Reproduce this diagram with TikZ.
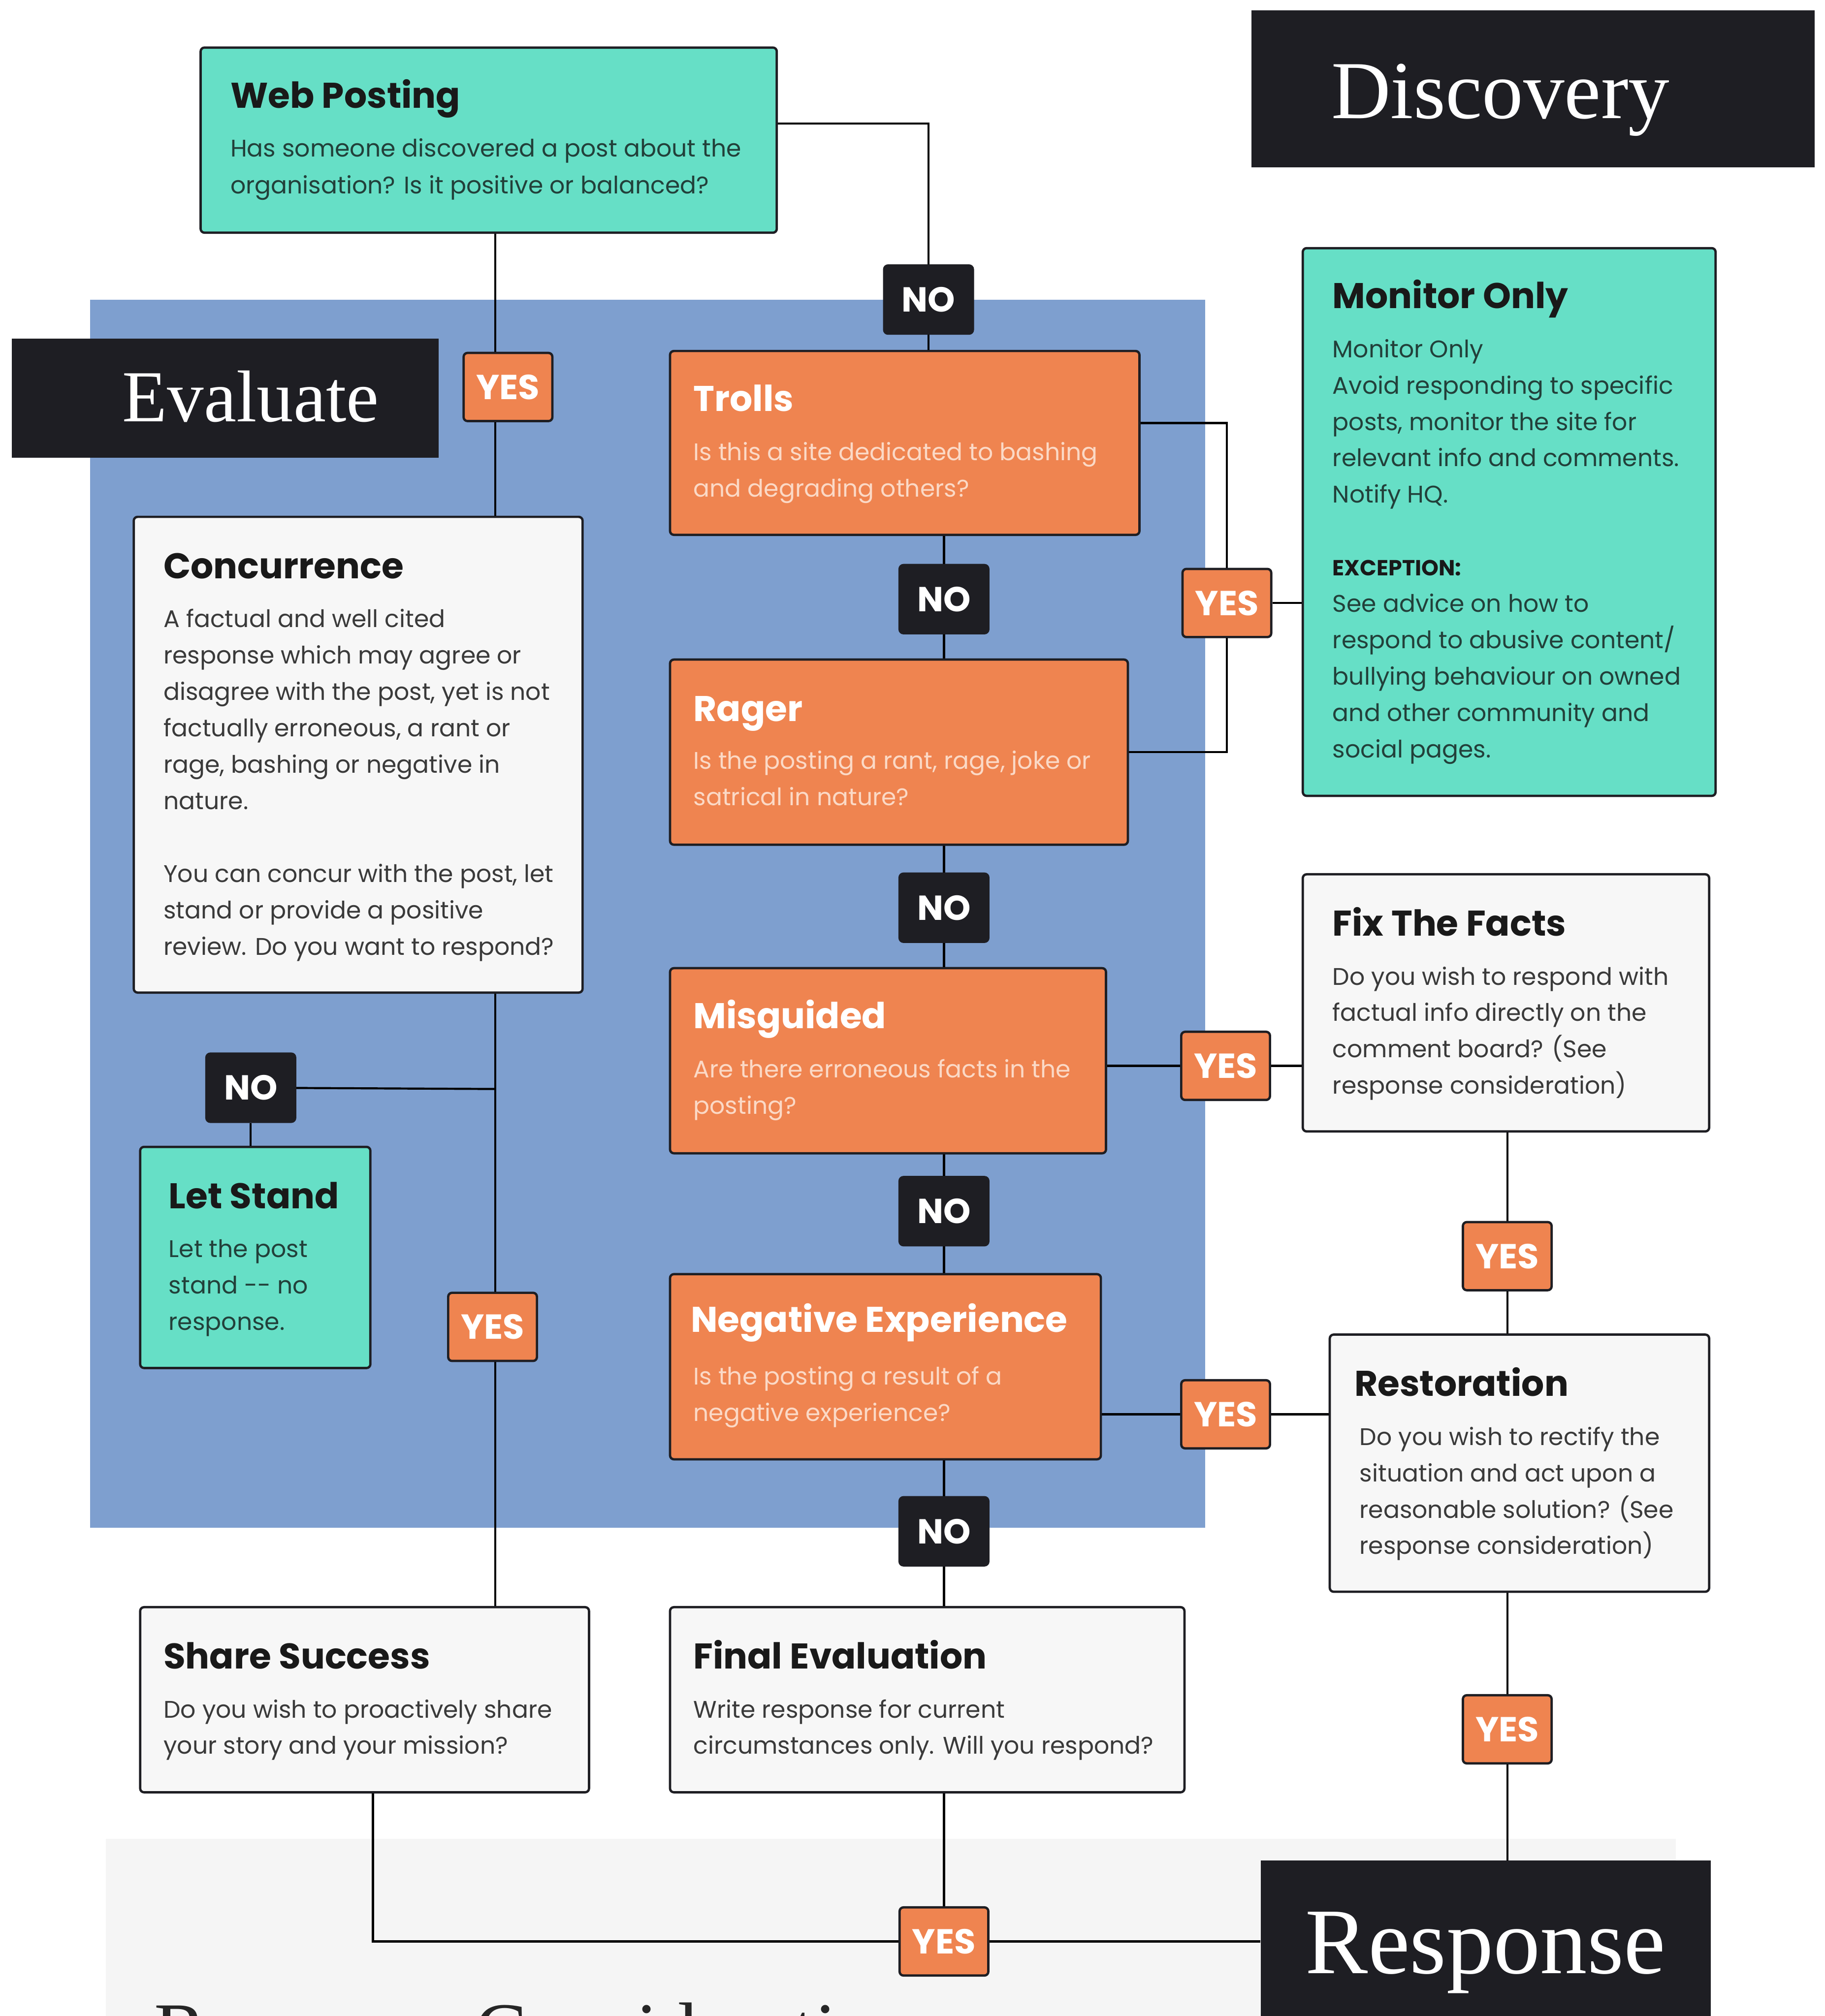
\documentclass[tikz,border=0pt]{standalone}
\usepackage{fontspec}
\setmainfont{Poppins}
\newfontfamily\hdrfont{Liberation Serif}
\usetikzlibrary{calc}
\definecolor{teal1}{HTML}{66DFC6}
\definecolor{orng}{HTML}{EF8450}
\definecolor{blu}{HTML}{7E9FCF}
\definecolor{drk}{HTML}{1E1E23}
\definecolor{lgt}{HTML}{F7F7F7}
\definecolor{bgg}{HTML}{F5F5F5}
\definecolor{tealtxt}{HTML}{22403A}
\definecolor{grytxt}{HTML}{3A3A3A}
\definecolor{peach}{HTML}{FBD9C6}
\pgfdeclarelayer{bglayer}
\pgfdeclarelayer{connlayer}
\pgfsetlayers{bglayer,connlayer,main}
\newcommand\blines[6]{%
  \foreach \tl [count=\ii] in {#6} {\node[#5] (#1\ii) at (#2,{#3+#4*(\ii-1)}) {\tl};}}
\begin{document}
\begin{tikzpicture}[x=1pt,y=-1pt,
  bx/.style={draw=drk, line width=1.8pt, rounded corners=3pt, inner sep=0pt, outer sep=0pt, anchor=north west},
  ttl/.style={font=\fontsize{27.8pt}{32pt}\selectfont\bfseries, inner sep=0pt, anchor=base west},
  bdy/.style={font=\fontsize{18.7pt}{22pt}\selectfont, inner sep=0pt, anchor=base west},
  lbl/.style={minimum width=69pt, minimum height=53pt, rounded corners=3pt, inner sep=0pt, font=\fontsize{27pt}{30pt}\selectfont\bfseries, text=white, line width=1.8pt},
  yesl/.style={lbl, fill=orng, draw=drk},
  nol/.style={lbl, fill=drk, draw=drk},
  conn/.style={draw=black, line width=1.6pt},
  hdr/.style={fill=drk, inner sep=0pt, anchor=north west},
  hdrtxt/.style={text=white, inner sep=0pt, anchor=base west},
  orT/.style={ttl, text=white},
  orB/.style={bdy, text=peach},
  teT/.style={ttl, text=black!90},
  teB/.style={bdy, text=tealtxt},
  lgT/.style={ttl, text=black!90},
  lgB/.style={bdy, text=grytxt}
]
\useasboundingbox (0,0) rectangle (1419,1568);
\begin{pgfonlayer}{bglayer}
\fill[white] (0,0) rectangle (1419,1568);
\node[fill=blu, inner sep=0pt, anchor=north west, minimum width=867pt, minimum height=955pt] (evalzone) at (70,233) {};
\node[fill=bgg, inner sep=0pt, anchor=north west, minimum width=1221pt, minimum height=150pt] (respzone) at (82,1430) {};
\node[hdrtxt, text=black!85, font=\hdrfont\fontsize{61pt}{66pt}\selectfont] (rctxt) at (120,1600) {Response Considerations};
\end{pgfonlayer}

% headers
\node[hdr, minimum width=438pt, minimum height=122pt] (disc) at (973,8) {};
\node[hdrtxt, font=\hdrfont\fontsize{64pt}{70pt}\selectfont] (discT) at (1035,92) {Discovery};
\node[hdr, minimum width=332pt, minimum height=93pt] (evalh) at (9,263) {};
\node[hdrtxt, font=\hdrfont\fontsize{57pt}{62pt}\selectfont] (evalT) at (95,328) {Evaluate};
\node[hdr, minimum width=350pt, minimum height=140pt] (resp) at (980,1447) {};
\node[hdrtxt, font=\hdrfont\fontsize{73pt}{80pt}\selectfont] (respT) at (1015,1535) {Response};

% helper coordinates
\coordinate (c1) at (722,96);
\coordinate (j1) at (385,847);
\coordinate (c2) at (290,1510);
\coordinate (c3) at (954,329);

% boxes
\node[bx, fill=teal1, minimum width=448pt, minimum height=144pt] (wp) at (156,37) {};
\node[bx, fill=orng, minimum width=365pt, minimum height=143pt] (trolls) at (521,273) {};
\node[bx, fill=orng, minimum width=356pt, minimum height=144pt] (rager) at (521,513) {};
\node[bx, fill=orng, minimum width=339pt, minimum height=144pt] (mis) at (521,753) {};
\node[bx, fill=orng, minimum width=335pt, minimum height=144pt] (neg) at (521,991) {};
\node[bx, fill=lgt, minimum width=400pt, minimum height=144pt] (fin) at (521,1250) {};
\node[bx, fill=lgt, minimum width=349pt, minimum height=144pt] (ss) at (109,1250) {};
\node[bx, fill=lgt, minimum width=349pt, minimum height=370pt] (con) at (104,402) {};
\node[bx, fill=teal1, minimum width=179pt, minimum height=172pt] (ls) at (109,892) {};
\node[bx, fill=teal1, minimum width=321pt, minimum height=426pt] (mon) at (1013,193) {};
\node[bx, fill=lgt, minimum width=316pt, minimum height=200pt] (fix) at (1013,680) {};
\node[bx, fill=lgt, minimum width=295pt, minimum height=200pt] (rest) at (1034,1038) {};

% labels
\node[nol] (no1) at (722,233) {NO};
\node[yesl] (yes1) at (395,301) {YES};
\node[nol] (no2) at (734,466) {NO};
\node[yesl] (yesT) at (954,469) {YES};
\node[nol] (no3) at (734,706) {NO};
\node[yesl] (yesM) at (953,829) {YES};
\node[nol] (no4) at (734,942) {NO};
\node[nol] (no5) at (195,846) {NO};
\node[yesl] (yesC) at (383,1032) {YES};
\node[yesl] (yesN) at (953,1100) {YES};
\node[yesl] (yesF) at (1172,977) {YES};
\node[nol] (no6) at (734,1191) {NO};
\node[yesl] (yesR) at (1172,1345) {YES};
\node[yesl] (yesE) at (734,1510) {YES};

% connectors
\begin{pgfonlayer}{connlayer}
\draw[conn] (wp.east |- c1) -- (c1) -- (no1);
\draw[conn] (no1) -- (no1 |- trolls.north);
\draw[conn] (j1 |- wp.south) -- (j1 |- ss.north);
\draw[conn] (j1) -- (no5);
\draw[conn] (no5) -- (no5 |- ls.north);
\draw[conn] (no2 |- trolls.south) -- (no2 |- rager.north);
\draw[conn] (no3 |- rager.south) -- (no3 |- mis.north);
\draw[conn] (no4 |- mis.south) -- (no4 |- neg.north);
\draw[conn] (no6 |- neg.south) -- (no6 |- fin.north);
\draw[conn] (yesE |- fin.south) -- (yesE);
\draw[conn] (c2 |- ss.south) -- (c2) -- (yesE);
\draw[conn] (yesE) -- (resp.west |- yesE);
\draw[conn] (trolls.east |- c3) -- (c3) -- (c3 |- rager.east) -- (rager.east);
\draw[conn] (yesT) -- (yesT -| mon.west);
\draw[conn] (mis.east |- yesM) -- (yesM -| fix.west);
\draw[conn] (neg.east |- yesN) -- (yesN -| rest.west);
\draw[conn] (yesF |- fix.south) -- (yesF |- rest.north);
\draw[conn] (yesR |- rest.south) -- (yesR |- resp.north);
\end{pgfonlayer}

% texts
\node[teT] (wpT) at (179,84) {Web Posting};
\blines{wpB}{179}{122}{28.5}{teB}{{Has someone discovered a post about the},{organisation? Is it positive or balanced?}}
\node[orT] (trT) at (539,320) {Trolls};
\blines{trB}{539}{358}{28.3}{orB}{{Is this a site dedicated to bashing},{and degrading others?}}
\node[orT] (raT) at (539,561) {Rager};
\blines{raB}{539}{598}{28.3}{orB}{{Is the posting a rant, rage, joke or},{satrical in nature?}}
\node[orT] (miT) at (539,800) {Misguided};
\blines{miB}{539}{838}{28.3}{orB}{{Are there erroneous facts in the},{posting?}}
\node[orT] (neT) at (537,1036) {Negative Experience};
\blines{neB}{539}{1077}{28.3}{orB}{{Is the posting a result of a},{negative experience?}}
\node[lgT] (fiT) at (539,1298) {Final Evaluation};
\blines{fiB}{539}{1336}{28.3}{lgB}{{Write response for current},{circumstances only. Will you respond?}}
\node[lgT] (ssT) at (127,1298) {Share Success};
\blines{ssB}{127}{1336}{28.3}{lgB}{{Do you wish to proactively share},{your story and your mission?}}
\node[lgT] (coT) at (127,450) {Concurrence};
\blines{coB}{127}{488}{28.3}{lgB}{{A factual and well cited},{response which may agree or},{disagree with the post, yet is not},{factually erroneous, a rant or},{rage, bashing or negative in},{nature.}}
\blines{coC}{127}{686.1}{28.3}{lgB}{{You can concur with the post, let},{stand or provide a positive},{review. Do you want to respond?}}
\node[teT] (lsT) at (131,940) {Let Stand};
\blines{lsB}{131}{978}{28.3}{teB}{{Let the post},{stand -{}- no},{response.}}
\node[teT] (moT) at (1036,240) {Monitor Only};
\blines{moB}{1036}{278}{28.3}{teB}{{Monitor Only},{Avoid responding to specific},{posts, monitor the site for},{relevant info and comments.},{Notify HQ.}}
\node[bdy, text=black!90, font=\fontsize{17pt}{22pt}\selectfont\bfseries] (moX) at (1036,447.8) {EXCEPTION:};
\blines{moC}{1036}{476.1}{28.3}{teB}{{See advice on how to},{respond to abusive content/},{bullying behaviour on owned},{and other community and},{social pages.}}
\node[lgT] (fxT) at (1036,728) {Fix The Facts};
\blines{fxB}{1036}{766}{28.3}{lgB}{{Do you wish to respond with},{factual info directly on the},{comment board? (See},{response consideration)}}
\node[lgT] (reT) at (1053,1086) {Restoration};
\blines{reB}{1057}{1124}{28.3}{lgB}{{Do you wish to rectify the},{situation and act upon a},{reasonable solution? (See},{response consideration)}}
\end{tikzpicture}
\end{document}
